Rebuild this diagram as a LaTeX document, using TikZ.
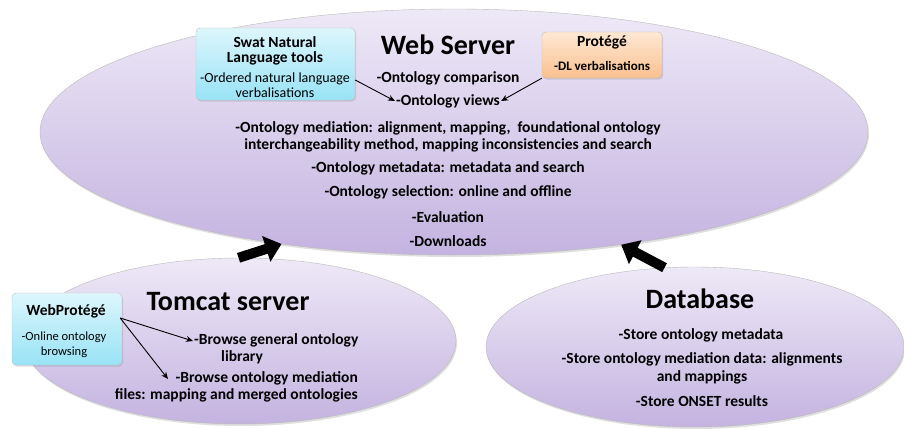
\documentclass[tikz,border=0pt]{standalone}
\usepackage{fontspec}
\setmainfont{Carlito}
\usetikzlibrary{shapes.geometric,arrows.meta,shadows}

\definecolor{lavtop}{HTML}{EEE9F7}
\definecolor{lavbot}{HTML}{C4B3E0}
\definecolor{cyantop}{HTML}{DDF6FC}
\definecolor{cyanbot}{HTML}{98E3F6}
\definecolor{orgtop}{HTML}{FEE8D4}
\definecolor{orgbot}{HTML}{FAC08F}

\tikzset{
  server/.style={ellipse, inner sep=0pt, draw=gray!55, top color=lavtop, bottom color=lavbot,
    drop shadow={opacity=0.25, shadow xshift=1pt, shadow yshift=-2pt}},
  toolbox/.style={rectangle, rounded corners=4pt, draw=gray!50, inner sep=0pt,
    drop shadow={opacity=0.25, shadow xshift=1pt, shadow yshift=-1.5pt}},
  title/.style={font=\fontsize{28}{32}\selectfont\bfseries},
  txt/.style={font=\fontsize{15.5}{17}\selectfont\bfseries, align=center, inner sep=1pt},
  boxtxt/.style={font=\fontsize{14}{14.5}\selectfont, align=center, inner sep=1pt},
  thin/.style={-{Stealth[length=7pt,width=6pt]}, line width=0.9pt},
  bigarrow/.style={-{Triangle[length=16pt,width=26pt]}, line width=10pt}
}

\begin{document}
\begin{tikzpicture}[x=1pt,y=-1pt]
\useasboundingbox (0,0) rectangle (904,428);

% the three servers
\node[server, minimum width=828pt, minimum height=246pt] (web) at (454,132) {};
\node[server, minimum width=432pt, minimum height=166pt] (tomcat) at (240,341) {};
\node[server, minimum width=418pt, minimum height=160pt] (db) at (695,347) {};

% tool boxes
\node[toolbox, top color=cyantop, bottom color=cyanbot, minimum width=159pt, minimum height=72pt] (swat) at (275.5,64) {};
\node[toolbox, top color=orgtop, bottom color=orgbot, minimum width=120pt, minimum height=46pt] (prot) at (602,55) {};
\node[toolbox, top color=cyantop, bottom color=cyanbot, minimum width=110pt, minimum height=72pt] (webp) at (67,329) {};

% web server
\node[title] (webtitle) at (448,45) {Web Server};
\node[txt] (comp) at (448,78) {-Ontology comparison};
\node[txt] (views) at (448,101) {-Ontology views};
\node[txt] (med) at (448,137) {-Ontology mediation: alignment, mapping,\ \ foundational ontology\\interchangeability method, mapping inconsistencies and search};
\node[txt] (meta) at (448,168) {-Ontology metadata: metadata and search};
\node[txt] (sel) at (448,192) {-Ontology selection: online and offline};
\node[txt] (eval) at (448,217) {-Evaluation};
\node[txt] (down) at (448,241) {-Downloads};

\node[txt, font=\fontsize{15.5}{15}\selectfont\bfseries] at (275,50.5) {Swat Natural\\Language tools};
\node[boxtxt] at (275,85) {-Ordered natural language\\verbalisations};
\node[txt] at (602,42) {Protégé};
\node[boxtxt, font=\fontsize{13}{15}\selectfont\bfseries] at (602,66) {-DL verbalisations};

% tomcat server
\node[title] (tomtitle) at (228,302) {Tomcat server};
\node[txt, align=left, anchor=west] (browse1) at (193,349) {-Browse general ontology\\\hspace*{27pt}library};
\node[txt, align=right, anchor=east] (browse2) at (359,387) {-Browse ontology mediation\\files: mapping and merged ontologies};
\node[txt] at (66,311) {WebProtégé};
\node[boxtxt, font=\fontsize{12.5}{15}\selectfont] at (64,345) {-Online ontology\\browsing};
\coordinate (b2) at (168,379);

% database
\node[title] (dbtitle) at (700,299) {Database};
\node[txt] (st1) at (701,335) {-Store ontology metadata};
\node[txt, font=\fontsize{15.5}{18.5}\selectfont\bfseries] (st2) at (702,368.5) {-Store ontology mediation data: alignments\\and mappings};
\node[txt] (st3) at (702,401) {-Store ONSET results};

% connectors
\draw[thin] ([yshift=-16pt]swat.east) -- (views.west);
\draw[thin] (prot.south west) -- (views.east);
\draw[thin] ([yshift=11pt,xshift=-2pt]webp.east) -- ([yshift=8pt]browse1.west);
\draw[thin] ([yshift=11pt,xshift=-2pt]webp.east) -- (b2);

\draw[bigarrow] (tomcat.91) -- (web.213);
\draw[bigarrow] (db.111) -- (web.326);
\end{tikzpicture}
\end{document}
